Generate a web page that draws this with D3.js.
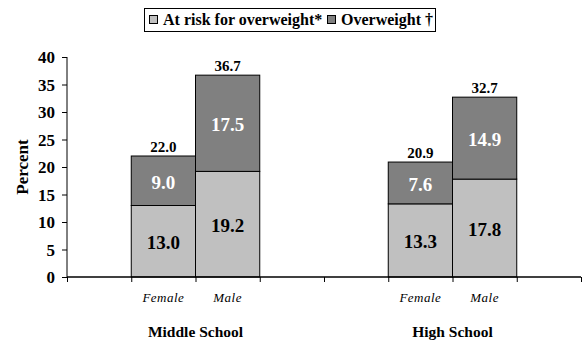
<!DOCTYPE html>
<html>
<head>
<meta charset="utf-8">
<script src="https://cdn.jsdelivr.net/npm/d3@7"></script>
<style>
  body { margin: 0; background: #fff; }
  svg text { font-family: "Liberation Serif", serif; }
</style>
</head>
<body>
<div id="chart"></div>
<script>
// chart data
const slots = ['s0', 'MS-Female', 'MS-Male', 's3', 's4', 'HS-Female', 'HS-Male', 's7'];
const barSlots = ['MS-Female', 'MS-Male', 'HS-Female', 'HS-Male'];
const sexLabels = ['Female', 'Male', 'Female', 'Male'];
const groups = ['Middle School', 'High School'];
const groupSlots = [['MS-Female', 'MS-Male'], ['HS-Female', 'HS-Male']];
const atRisk = [13.0, 19.2, 13.3, 17.8];
const overweight = [9.0, 17.5, 7.6, 14.9];
const totals = ['22.0', '36.7', '20.9', '32.7'];
const yTicks = [0, 5, 10, 15, 20, 25, 30, 35, 40];
const seriesNames = ['At risk for overweight*', 'Overweight \u2020'];
const colors = ['#c0c0c0', '#808080'];

const W = 582, H = 343;
const svg = d3.select('#chart').append('svg').attr('width', W).attr('height', H);

const x = d3.scaleBand().domain(slots).range([67, 581]).padding(0);
const y = d3.scaleLinear().domain([0, 40]).range([277, 57]);

// y axis
const yAxis = svg.append('g')
    .attr('transform', 'translate(67,0)')
    .call(d3.axisLeft(y).tickValues(yTicks).tickSize(5).tickPadding(7));
yAxis.selectAll('text').attr('font-size', 17).attr('font-weight', 'bold')
    .attr('fill', '#000').attr('dy', '0.35em');
yAxis.selectAll('line, path').attr('stroke', '#000');
yAxis.select('path').attr('d', `M-0,${y(40)}H0V${y(0)}`);

svg.append('text')
    .attr('transform', `translate(28,${(y(0) + y(40)) / 2}) rotate(-90)`)
    .attr('text-anchor', 'middle')
    .attr('font-size', 17).attr('font-weight', 'bold')
    .text('Percent');

// bars
const stackData = barSlots.map((s, i) => ({ slot: s, a: atRisk[i], o: overweight[i], t: totals[i] }));

const bars = svg.append('g');
bars.selectAll('rect.risk').data(stackData).join('rect')
    .attr('x', d => x(d.slot)).attr('width', x.bandwidth())
    .attr('y', d => y(d.a)).attr('height', d => y(0) - y(d.a))
    .attr('fill', colors[0]).attr('stroke', '#000').attr('stroke-width', 1);
bars.selectAll('rect.over').data(stackData).join('rect')
    .attr('x', d => x(d.slot)).attr('width', x.bandwidth())
    .attr('y', d => y(d.a + d.o)).attr('height', d => y(d.a) - y(d.a + d.o))
    .attr('fill', colors[1]).attr('stroke', '#000').attr('stroke-width', 1);

bars.selectAll('text.risk').data(stackData).join('text')
    .attr('x', d => x(d.slot) + x.bandwidth() / 2)
    .attr('y', d => (y(0) + y(d.a)) / 2 + 8)
    .attr('text-anchor', 'middle').attr('font-size', 19).attr('font-weight', 'bold')
    .text(d => d.a.toFixed(1));
bars.selectAll('text.over').data(stackData).join('text')
    .attr('x', d => x(d.slot) + x.bandwidth() / 2)
    .attr('y', d => (y(d.a) + y(d.a + d.o)) / 2 + 8)
    .attr('text-anchor', 'middle').attr('font-size', 19).attr('font-weight', 'bold')
    .attr('fill', '#fff')
    .text(d => d.o.toFixed(1));
bars.selectAll('text.total').data(stackData).join('text')
    .attr('x', d => x(d.slot) + x.bandwidth() / 2)
    .attr('y', d => y(d.a + d.o) - 4)
    .attr('text-anchor', 'middle').attr('font-size', 15).attr('font-weight', 'bold')
    .text(d => d.t);

// x axis with ticks at slot boundaries
const xi = d3.scaleLinear().domain([0, slots.length]).range(x.range());
const xAxis = svg.append('g')
    .attr('transform', `translate(0,${y(0)})`)
    .call(d3.axisBottom(xi).ticks(slots.length).tickSize(5).tickFormat(''));
xAxis.selectAll('line, path').attr('stroke', '#000');
xAxis.select('path').attr('stroke-width', 1.5).attr('d', `M${xi(0)},0H${xi(slots.length)}`);

svg.append('g').selectAll('text').data(barSlots).join('text')
    .attr('x', d => x(d) + x.bandwidth() / 2)
    .attr('y', 302)
    .attr('text-anchor', 'middle').attr('font-size', 13).attr('font-style', 'italic')
    .attr('letter-spacing', 0.5)
    .text((d, i) => sexLabels[i]);

svg.append('g').selectAll('text').data(groups).join('text')
    .attr('x', (d, i) => x(groupSlots[i][1]))
    .attr('y', 337)
    .attr('text-anchor', 'middle').attr('font-size', 15.5).attr('font-weight', 'bold')
    .text(d => d);

// legend
const lg = svg.append('g');
lg.append('rect').attr('x', 144.5).attr('y', 8.5).attr('width', 291).attr('height', 23)
    .attr('fill', '#fff').attr('stroke', '#000').attr('stroke-width', 1);
const lx = [149, 327];
seriesNames.forEach((n, i) => {
  lg.append('rect').attr('x', lx[i] + 0.5).attr('y', 15.5).attr('width', 8).attr('height', 8)
      .attr('fill', colors[i]).attr('stroke', '#000');
  lg.append('text').attr('x', lx[i] + 14).attr('y', 25)
      .attr('font-size', 16).attr('font-weight', 'bold').text(n);
});
</script>
</body>
</html>
